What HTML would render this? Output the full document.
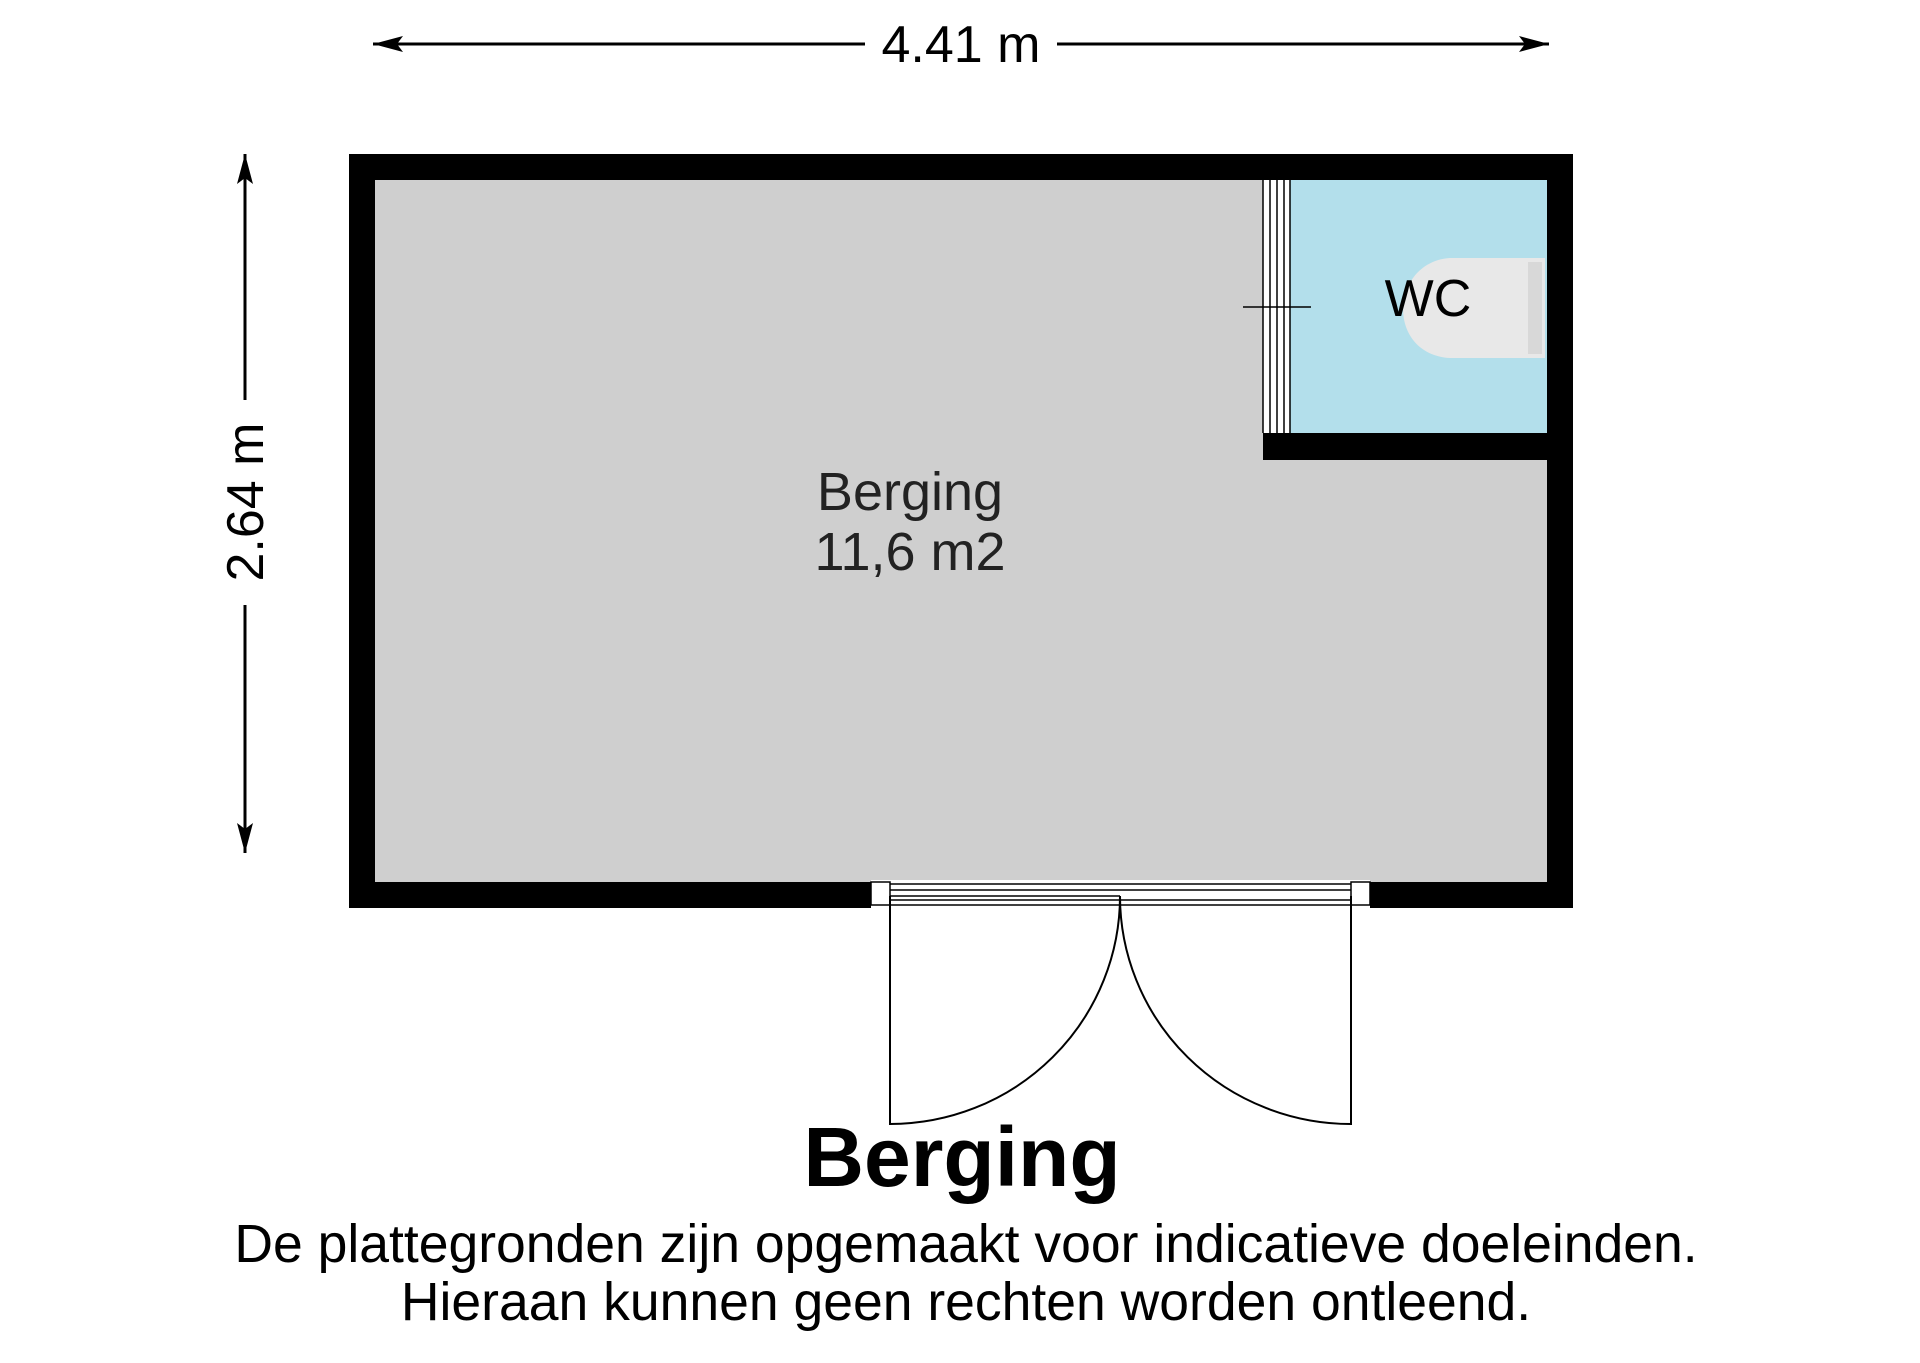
<!DOCTYPE html>
<html><head><style>body{margin:0;background:#fff}</style></head><body>
<svg width="1920" height="1358" xmlns="http://www.w3.org/2000/svg" font-family="Liberation Sans, sans-serif">
<defs>
<marker id="b" viewBox="0 0 30 16" markerWidth="30" markerHeight="16" refX="30" refY="8" orient="auto-start-reverse" markerUnits="userSpaceOnUse"><path d="M0,0 L30,8 L0,16 L6,8Z" fill="#000"/></marker></defs>
<!-- dims -->
<line x1="373" y1="44" x2="865" y2="44" stroke="#000" stroke-width="3" marker-start="url(#b)"/>
<line x1="1057" y1="44" x2="1549" y2="44" stroke="#000" stroke-width="3" marker-end="url(#b)"/>
<text x="961" y="62" font-size="52" text-anchor="middle">4.41 m</text>
<line x1="245" y1="154" x2="245" y2="400" stroke="#000" stroke-width="3" marker-start="url(#b)"/>
<line x1="245" y1="605" x2="245" y2="853" stroke="#000" stroke-width="3" marker-end="url(#b)"/>
<text transform="translate(263,502) rotate(-90)" font-size="52" text-anchor="middle">2.64 m</text>
<!-- floor -->
<rect x="349" y="154" width="1224" height="754" fill="#000"/>
<rect x="375" y="180" width="1172" height="702" fill="#cfcfcf"/>
<rect x="1263" y="180" width="284" height="280" fill="#000"/>
<rect x="1290" y="180" width="257" height="253" fill="#b3dfeb"/>
<rect x="1263" y="180" width="27" height="253" fill="#fff"/>
<g stroke="#000" stroke-width="1.5"><line x1="1263" y1="180" x2="1263" y2="433"/><line x1="1270" y1="180" x2="1270" y2="433"/><line x1="1277" y1="180" x2="1277" y2="433"/><line x1="1284" y1="180" x2="1284" y2="433"/><line x1="1290" y1="180" x2="1290" y2="433"/><line x1="1243" y1="307" x2="1311" y2="307"/></g>
<path d="M1545,258 L1450,258 C1390,262 1385,354 1450,358 L1545,358 Z" fill="#e8e8e8"/>
<rect x="1528" y="262" width="14" height="92" fill="#d8d8d8"/>
<text x="1428" y="316" font-size="52" text-anchor="middle">WC</text>
<text x="910" y="510" font-size="54" text-anchor="middle" fill="#222">Berging</text>
<text x="910" y="570" font-size="54" text-anchor="middle" fill="#222">11,6 m2</text>
<!-- door -->
<rect x="871" y="880" width="499" height="30" fill="#fff"/>
<g stroke="#000" stroke-width="1.5" fill="none">
<rect x="871" y="882" width="19" height="23"/><rect x="1351" y="882" width="19" height="23"/>
<line x1="890" y1="884" x2="1351" y2="884"/><line x1="890" y1="890" x2="1351" y2="890"/><line x1="890" y1="896" x2="1120" y2="896"/><line x1="890" y1="900" x2="1351" y2="900"/><line x1="890" y1="905" x2="1351" y2="905"/>
<path d="M890,896 V1124 A230,228 0 0 0 1120,896" stroke-width="2"/>
<path d="M1351,896 V1124 A231,228 0 0 1 1120,896" stroke-width="2"/>
</g>
<text x="962" y="1186" font-size="84" font-weight="bold" text-anchor="middle">Berging</text>
<text x="966" y="1262" font-size="53.5" text-anchor="middle">De plattegronden zijn opgemaakt voor indicatieve doeleinden.</text>
<text x="966" y="1320" font-size="53.5" text-anchor="middle">Hieraan kunnen geen rechten worden ontleend.</text>
</svg>
</body></html>
